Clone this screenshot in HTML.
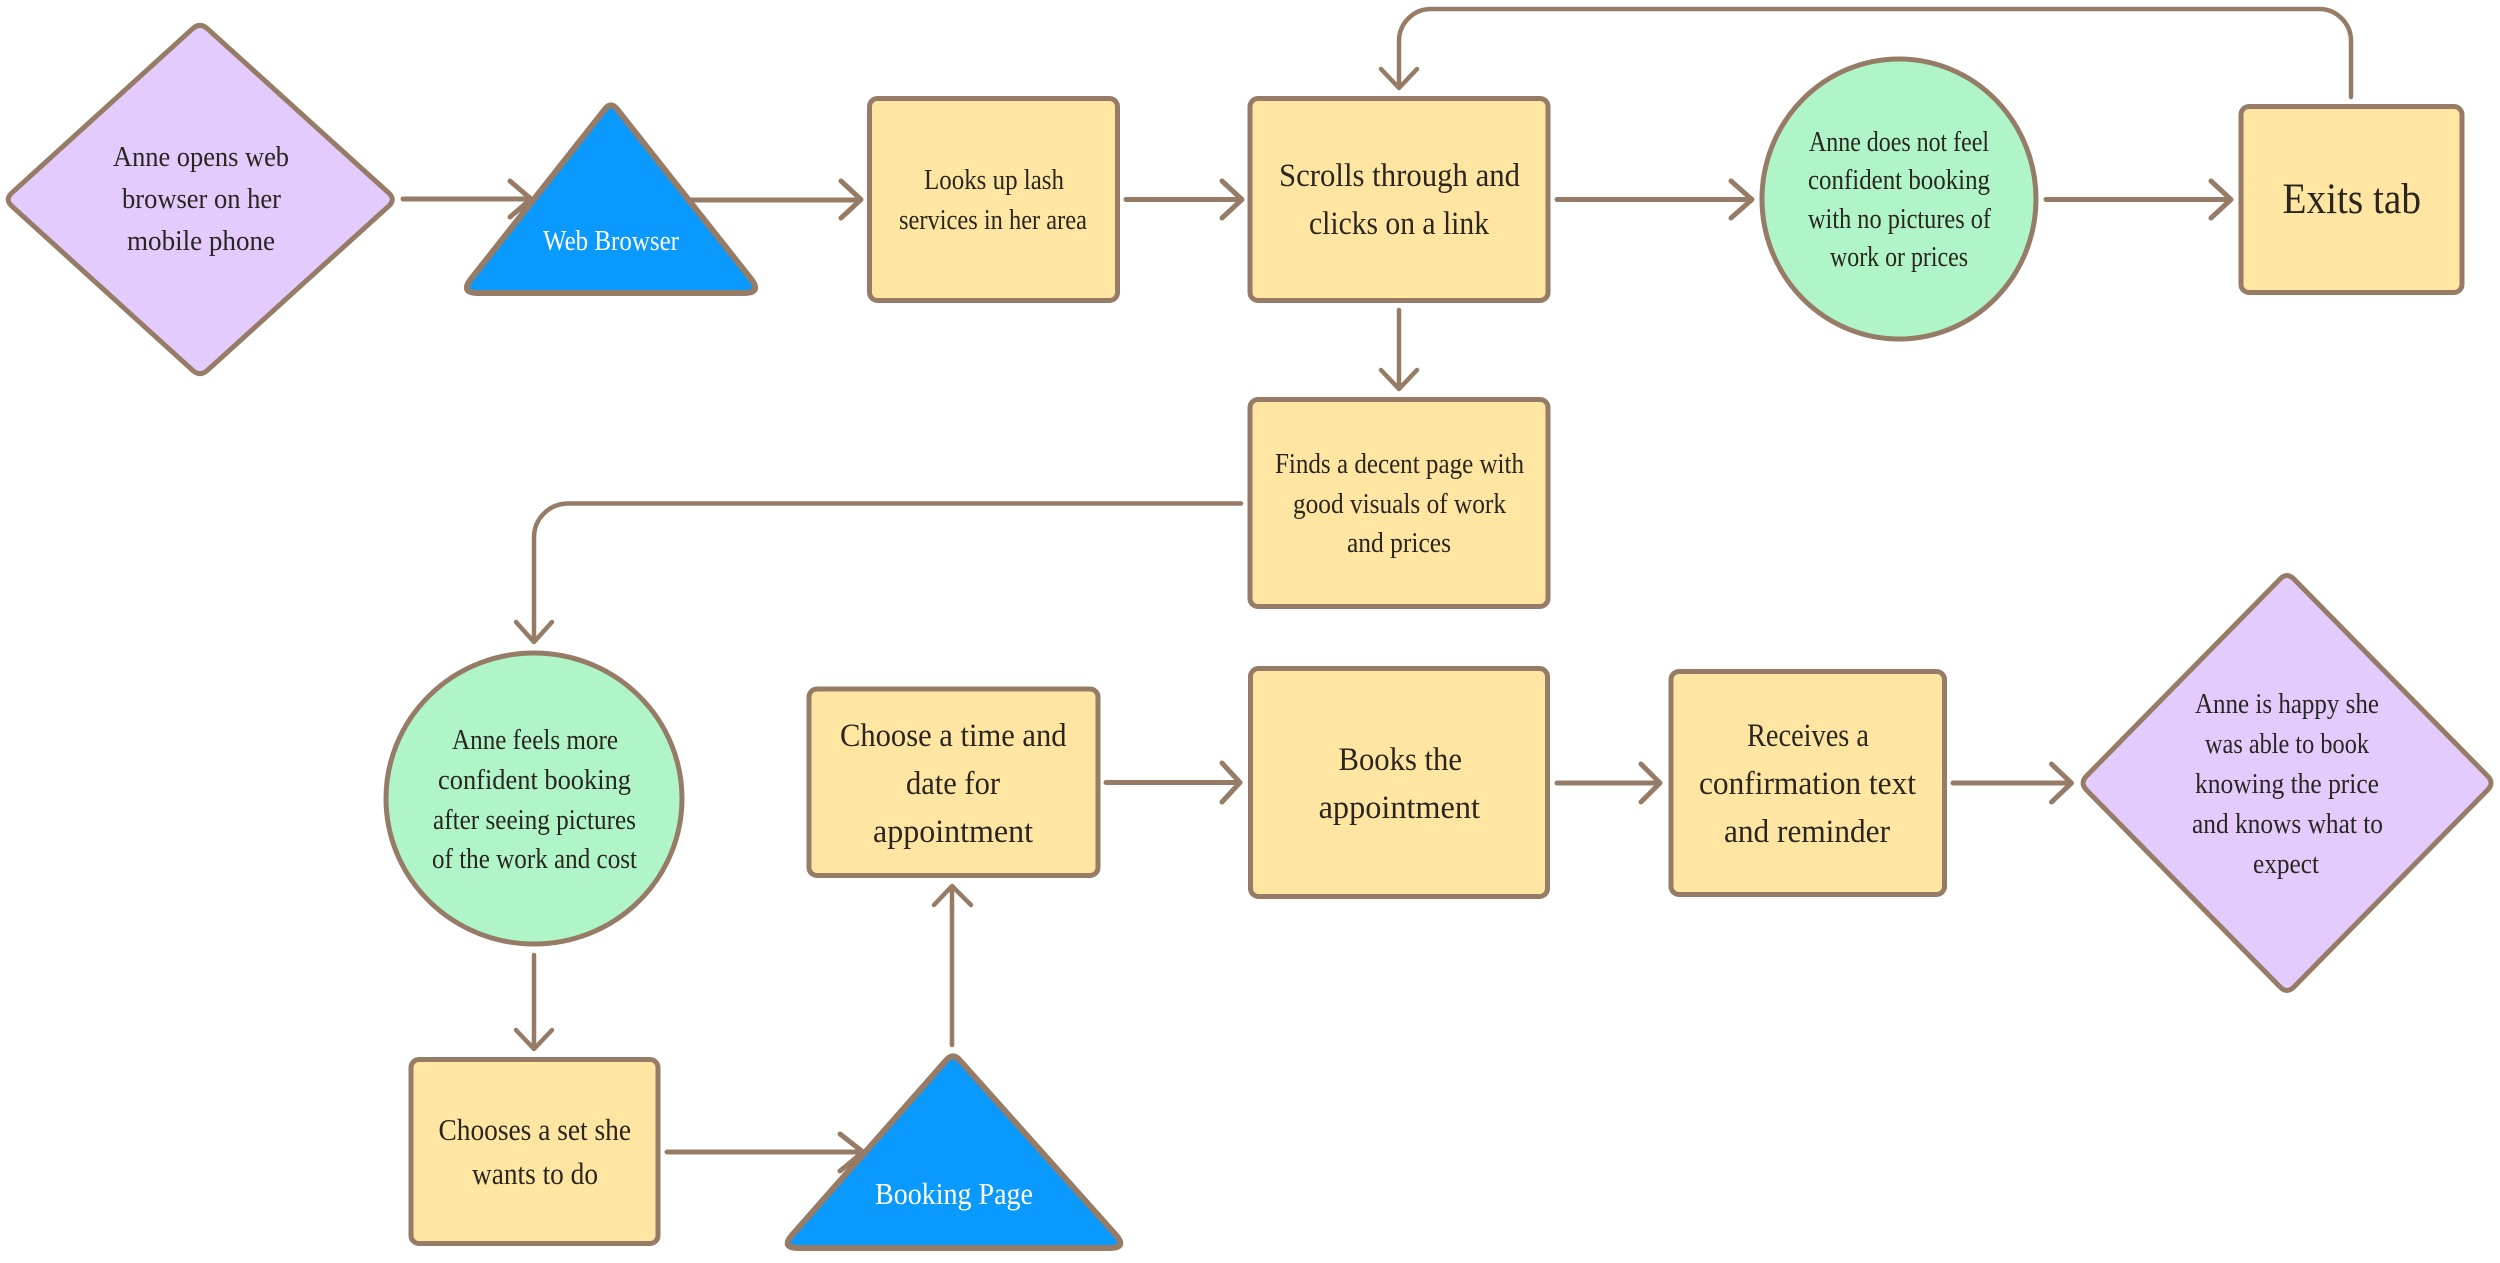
<!DOCTYPE html>
<html><head><meta charset="utf-8"><style>
html,body{margin:0;padding:0;background:#fff;width:2500px;height:1263px;overflow:hidden}
svg{display:block}
text{font-family:"Liberation Serif",serif;fill:#2b2520}
.w{fill:#fff}
.c{fill:none;stroke:#967c66;stroke-width:5;stroke-linecap:round;stroke-linejoin:round}
.v{stroke-width:4.500}
.s{stroke:#967c66;stroke-width:5;stroke-linejoin:round}
.t{stroke-width:6}
.y{fill:#fee6a2}.g{fill:#aff5c7}.p{fill:#e3ccfd}.b{fill:#0a99ff}
</style></head><body>
<svg width="2500" height="1263" viewBox="0 0 2500 1263" xmlns="http://www.w3.org/2000/svg">
<rect width="2500" height="1263" fill="#fff"/>
<!-- connectors -->
<path class="c" d="M403 199H530M510 181L531 199L510 217"/>
<path class="c" d="M680 200H860M841 181L861 199.500L841 218"/>
<path class="c" d="M1126 199.500H1241M1222 181L1242 199.500L1222 218"/>
<path class="c" d="M1557 199.500H1751M1731 181L1752 199.500L1731 218"/>
<path class="c" d="M2046 199.500H2230M2211 181L2231 199.500L2211 218"/>
<path class="c v" d="M2351 97V41A32 32 0 0 0 2319 9H1431A32 32 0 0 0 1399 41V87M1381 69L1399 88L1417 69"/>
<path class="c v" d="M1399 310V388M1381 370L1399 389L1417 370"/>
<path class="c v" d="M1241 503.500H568A34 34 0 0 0 534 537.500V641M516 622L534 642L552 622"/>
<path class="c v" d="M534 955V1048M516 1030L534 1049L552 1030"/>
<path class="c" d="M667 1152H862M840 1134L863 1152L840 1171"/>
<path class="c v" d="M952 1045V887M934 905L952 886L971 905"/>
<path class="c" d="M1106 782.500H1239M1222 763L1240 782.500L1222 802"/>
<path class="c" d="M1557 783H1659M1641 764L1660 783L1641 802"/>
<path class="c" d="M1953 783H2070M2051.500 764L2071.500 783L2051.500 802"/>
<!-- shapes -->
<path class="p s" d="M192.600 28.700Q200 22 207.400 28.700L388.600 192.800Q396 199.500 388.600 206.200L207.400 370.300Q200 377 192.600 370.300L11.900 206.200Q4.500 199.500 11.900 192.800Z"/>
<path class="b s t" d="M604.900 109.300Q611 101.500 617.100 109.300L750.900 278.900Q762 293 744 293L478 293Q460 293 471.100 278.900Z"/>
<rect class="y s" x="869.500" y="98.500" width="248" height="202" rx="8"/>
<rect class="y s" x="1250" y="98.500" width="298" height="202" rx="8"/>
<ellipse class="g s" cx="1899" cy="199" rx="137" ry="140"/>
<rect class="y s" x="2241" y="106.500" width="221" height="186" rx="8"/>
<rect class="y s" x="1250" y="399.500" width="298" height="207" rx="8"/>
<ellipse class="g s" cx="534" cy="798.500" rx="148" ry="145.500"/>
<rect class="y s" x="809" y="689" width="289" height="186.500" rx="8"/>
<rect class="y s" x="1250.500" y="668.500" width="297" height="228" rx="8"/>
<rect class="y s" x="1671" y="671.500" width="273.500" height="223" rx="8"/>
<path class="p s" d="M2280 579.100Q2287 572 2294 579.100L2487.500 775.900Q2494.500 783 2487.500 790.100L2294 986.900Q2287 994 2280 986.900L2086.600 790.100Q2079.600 783 2086.600 775.900Z"/>
<rect class="y s" x="411" y="1059.500" width="247" height="184" rx="8"/>
<path class="b s t" d="M946.400 1060.100Q953 1052.700 959.600 1060.100L1115.500 1234.600Q1127.500 1248 1109.500 1248L798.500 1248Q780.500 1248 792.500 1234.600Z"/>
<!-- labels -->
<g font-size="29">
<text x="113" y="166" textLength="176" lengthAdjust="spacingAndGlyphs">Anne opens web</text>
<text x="122" y="208" textLength="159" lengthAdjust="spacingAndGlyphs">browser on her</text>
<text x="127" y="250" textLength="148" lengthAdjust="spacingAndGlyphs">mobile phone</text>
<text class="w" x="543" y="250" textLength="136" lengthAdjust="spacingAndGlyphs">Web Browser</text>
<text x="924" y="189" textLength="140" lengthAdjust="spacingAndGlyphs">Looks up lash</text>
<text x="899" y="229" textLength="188" lengthAdjust="spacingAndGlyphs">services in her area</text>
<text x="1809" y="151" textLength="180" lengthAdjust="spacingAndGlyphs">Anne does not feel</text>
<text x="1808" y="189" textLength="182" lengthAdjust="spacingAndGlyphs">confident booking</text>
<text x="1808" y="228" textLength="183" lengthAdjust="spacingAndGlyphs">with no pictures of</text>
<text x="1830" y="266" textLength="138" lengthAdjust="spacingAndGlyphs">work or prices</text>
<text x="1275" y="473" textLength="249" lengthAdjust="spacingAndGlyphs">Finds a decent page with</text>
<text x="1293" y="513" textLength="213" lengthAdjust="spacingAndGlyphs">good visuals of work</text>
<text x="1347" y="552" textLength="104" lengthAdjust="spacingAndGlyphs">and prices</text>
<text x="452" y="749" textLength="166" lengthAdjust="spacingAndGlyphs">Anne feels more</text>
<text x="438" y="789" textLength="193" lengthAdjust="spacingAndGlyphs">confident booking</text>
<text x="433" y="829" textLength="203" lengthAdjust="spacingAndGlyphs">after seeing pictures</text>
<text x="432" y="868" textLength="205" lengthAdjust="spacingAndGlyphs">of the work and cost</text>
<text x="2195" y="713" textLength="184" lengthAdjust="spacingAndGlyphs">Anne is happy she</text>
<text x="2205" y="753" textLength="164" lengthAdjust="spacingAndGlyphs">was able to book</text>
<text x="2195" y="793" textLength="184" lengthAdjust="spacingAndGlyphs">knowing the price</text>
<text x="2192" y="833" textLength="191" lengthAdjust="spacingAndGlyphs">and knows what to</text>
<text x="2253" y="873" textLength="66" lengthAdjust="spacingAndGlyphs">expect</text>
</g>
<g font-size="33">
<text x="1279" y="186" textLength="241" lengthAdjust="spacingAndGlyphs">Scrolls through and</text>
<text x="1309" y="234" textLength="180" lengthAdjust="spacingAndGlyphs">clicks on a link</text>
<text x="840" y="746" textLength="226.500" lengthAdjust="spacingAndGlyphs">Choose a time and</text>
<text x="906" y="794" textLength="94" lengthAdjust="spacingAndGlyphs">date for</text>
<text x="873" y="842" textLength="160" lengthAdjust="spacingAndGlyphs">appointment</text>
<text x="1338.500" y="770" textLength="123.500" lengthAdjust="spacingAndGlyphs">Books the</text>
<text x="1318.600" y="818" textLength="161.400" lengthAdjust="spacingAndGlyphs">appointment</text>
<text x="1747" y="746" textLength="122" lengthAdjust="spacingAndGlyphs">Receives a</text>
<text x="1699" y="794" textLength="217" lengthAdjust="spacingAndGlyphs">confirmation text</text>
<text x="1724" y="842" textLength="166" lengthAdjust="spacingAndGlyphs">and reminder</text>
</g>
<g font-size="31">
<text x="438.500" y="1140" textLength="192.500" lengthAdjust="spacingAndGlyphs">Chooses a set she</text>
<text x="472" y="1184" textLength="126" lengthAdjust="spacingAndGlyphs">wants to do</text>
<text class="w" x="875" y="1204" textLength="158" lengthAdjust="spacingAndGlyphs">Booking Page</text>
</g>
<text font-size="43" x="2282.500" y="213" textLength="138.500" lengthAdjust="spacingAndGlyphs">Exits tab</text>
</svg>
</body></html>
